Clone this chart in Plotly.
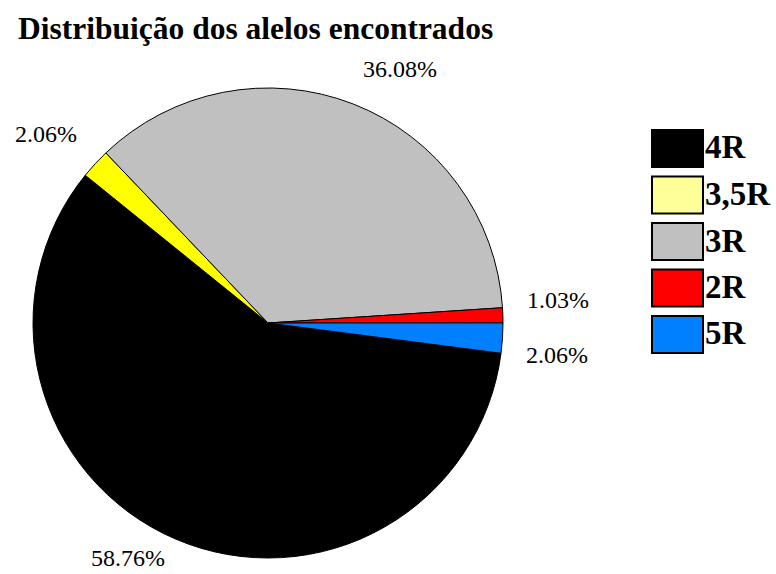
import math
import plotly.graph_objects as go

W, H = 776, 574

labels = ["4R", "3,5R", "3R", "2R", "5R"]
values = [58.76, 2.06, 36.08, 1.03, 2.06]
colors = ["#000000", "#FFFF00", "#C0C0C0", "#FF0000", "#0080FF"]
legend_colors = ["#000000", "#FFFF99", "#C0C0C0", "#FF0000", "#0080FF"]

CX, CY, R = 268, 323, 235   # pie centre / radius in pixels
ROT = 97.4                   # first slice starts just below 3 o'clock
GAP = 22                     # label distance outside the rim
TXT_H = 31                   # approx. label box height, keeps labels on the page


def px(x, y):
    return x / W, 1 - y / H


fig = go.Figure()
fig.add_trace(go.Pie(
    labels=labels, values=values, sort=False,
    direction="clockwise", rotation=ROT,
    marker=dict(colors=colors, line=dict(color="black", width=1)),
    textinfo="none",
    domain=dict(x=[(CX - R) / W, (CX + R) / W],
                y=[1 - (CY + R) / H, 1 - (CY - R) / H]),
    showlegend=False, hoverinfo="label+value",
))

# percentage labels outside each slice, at the slice mid-angle, no leader lines
total = sum(values)
cum = 0
for v in values:
    ang = math.radians(90 - ROT - (cum + v / 2) / total * 360)
    cum += v
    c, s = math.cos(ang), math.sin(ang)
    lx = CX + (R + GAP) * c
    ly = CY - (R + GAP) * s
    if s < 0:
        ly = min(ly, H - TXT_H)
    x, y = px(lx, ly)
    fig.add_annotation(x=x, y=y, xref="paper", yref="paper",
                       text="%.2f%%" % v, showarrow=False,
                       xanchor="left" if c > 0 else "right",
                       yanchor="bottom" if s > 0 else "top",
                       font=dict(family="Liberation Serif", size=24, color="black"))

# legend drawn by hand: big boxed swatches like the original
y0, step = 148.5, 46.5
for i, (lab, col) in enumerate(zip(labels, legend_colors)):
    yc = y0 + i * step
    fig.add_shape(type="rect", xref="paper", yref="paper",
                  x0=652 / W, x1=703 / W,
                  y0=1 - (yc + 18.5) / H, y1=1 - (yc - 18.5) / H,
                  fillcolor=col, line=dict(color="black", width=2))
    fig.add_annotation(x=703 / W, y=1 - (yc - 1) / H, xref="paper", yref="paper",
                       text="<b>%s</b>" % lab, showarrow=False,
                       xanchor="left", yanchor="middle",
                       font=dict(family="Liberation Serif", size=33, color="black"))

fig.update_layout(
    width=W, height=H,
    margin=dict(l=0, r=0, t=0, b=0),
    paper_bgcolor="white", plot_bgcolor="white",
    title=dict(text="<b>Distribuição dos alelos encontrados</b>",
               x=18 / W, xanchor="left", y=1 - 28 / H, yanchor="middle",
               font=dict(family="Liberation Serif", size=31.5, color="black")),
)

# page body margin would shift the whole figure by 8px
fig.write_html("out.html", config={"displayModeBar": False},
               post_script="document.body.style.margin='0px';")
